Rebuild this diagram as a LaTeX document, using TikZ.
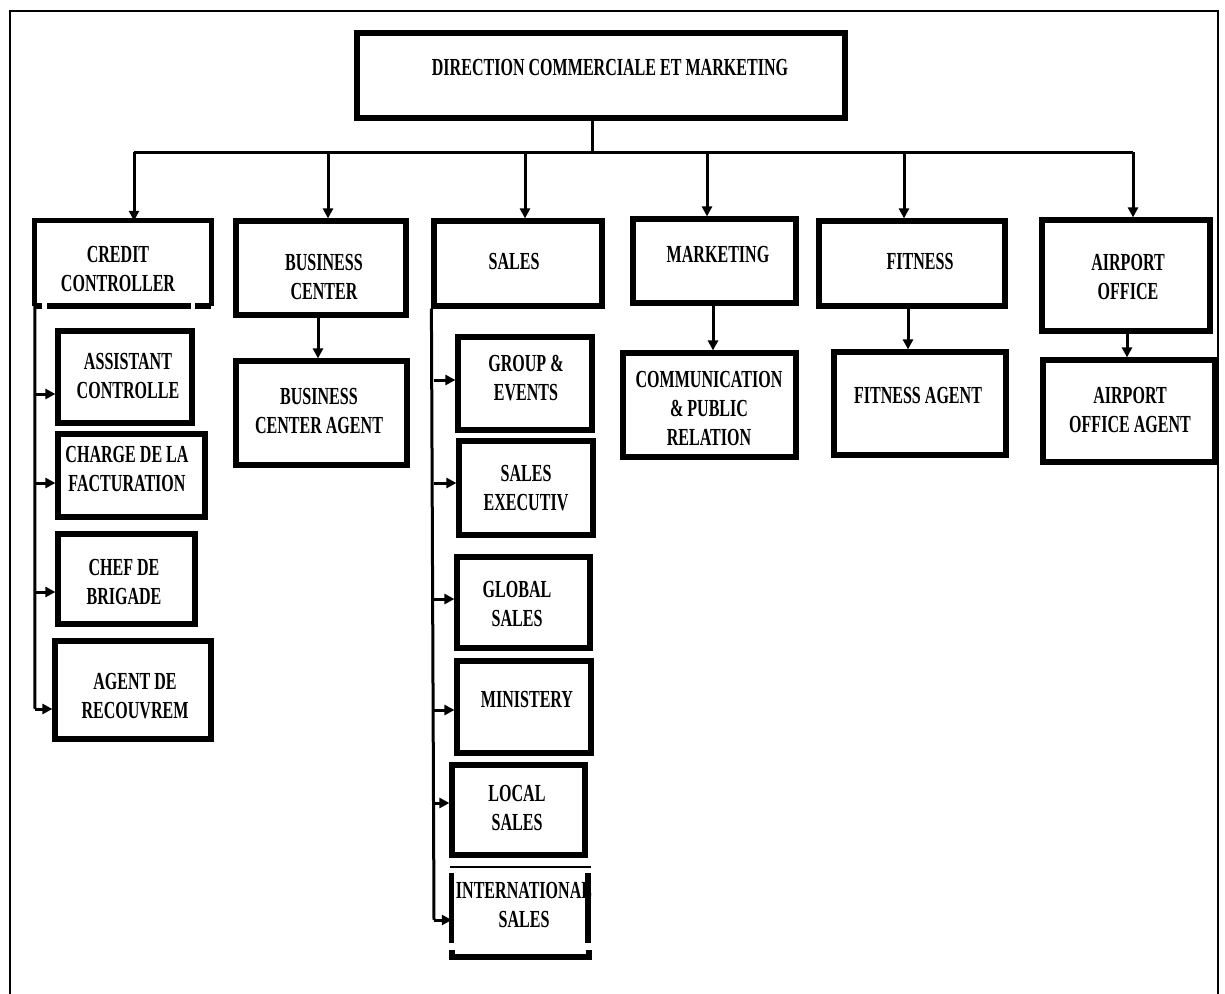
\documentclass[tikz,border=0pt]{standalone}
\usepackage{fontspec}
\usetikzlibrary{arrows.meta,fit}
\newfontfamily\orgfont[FakeStretch=0.655]{Liberation Serif}
\newcommand\orglabel{\orgfont\bfseries\fontsize{24.5}{29}\selectfont}

\begin{document}
\begin{tikzpicture}[x=1pt,y=-1pt,
  box/.style={draw, line width=5.2pt, inner sep=0pt},
  plain/.style={inner sep=0pt},
  lbl/.style={font=\orglabel, align=center, inner sep=0pt},
  conn/.style={line width=3pt},
  arr/.style={conn, -{Triangle[length=10pt,width=10pt]}},
  frame/.style={line width=2.6pt},
  edge/.style={line width=5.2pt}]

\useasboundingbox (0,0) rectangle (1225,993);

% page frame (open at the bottom)
\draw[frame] (10,1010) -- (10,11) -- (1218,11) -- (1218,1010);

% head of the department
\node[box, fit={(357,33) (845,118)}] (dcm) {};
\node[lbl] (dcm-t) at (610,68) {DIRECTION COMMERCIALE ET MARKETING};

% first level
\node[plain, fit={(35,221) (211,306)}] (cc) {};
\node[box, fit={(236,221) (406,315)}] (bc) {};
\node[box, fit={(434,221) (602,306)}] (sl) {};
\node[box, fit={(633,219) (796,303)}] (mk) {};
\node[box, fit={(819,221) (1005,306)}] (ft) {};
\node[box, fit={(1042,220) (1210,331)}] (ap) {};

% credit controller box, bottom edge broken
\draw[edge] (cc.south west) -- (cc.north west) -- (cc.north east) -- (cc.south east);
\draw[edge] (35,306) -- (42,306);
\draw[edge] (47,306) -- (191,306);
\draw[edge] (195,306) -- (211,306);

\node[lbl] (cc-t) at (118,269) {CREDIT\\CONTROLLER};
\node[lbl] (bc-t) at (324,277) {BUSINESS\\CENTER};
\node[lbl] (sl-t) at (514,262) {SALES};
\node[lbl] (mk-t) at (718,255) {MARKETING};
\node[lbl] (ft-t) at (920,262) {FITNESS};
\node[lbl] (ap-t) at (1128,277) {AIRPORT\\OFFICE};

% distribution bar
\coordinate (hub) at (592,152);
\coordinate (d1) at (134,152);
\coordinate (d2) at (328,152);
\coordinate (d3) at (525,152);
\coordinate (d4) at (707,152);
\coordinate (d5) at (904,152);
\coordinate (d6) at (1133,152);
\draw[conn] (dcm.south -| hub) -- (hub);
\draw[conn] (d1) -- (d6);
\draw[arr] (d1) -- (d1 |- cc.north);
\draw[arr] (d2) -- (d2 |- bc.north);
\draw[arr] (d3) -- (d3 |- sl.north);
\draw[arr] (d4) -- (d4 |- mk.north);
\draw[arr] (d5) -- (d5 |- ft.north);
\draw[arr] (d6) -- (d6 |- ap.north);

% second level, single children
\node[box, fit={(236,361) (407,465)}] (bca) {};
\node[box, fit={(623,353) (796,457)}] (cpr) {};
\node[box, fit={(834,352) (1006,455)}] (fta) {};
\node[box, fit={(1043,360) (1215,462)}] (apa) {};
\node[lbl] (bca-t) at (319,411) {BUSINESS\\CENTER AGENT};
\node[lbl] (cpr-t) at (709,409) {COMMUNICATION\\\& PUBLIC\\RELATION};
\node[lbl] (fta-t) at (918,396) {FITNESS AGENT};
\node[lbl] (apa-t) at (1130,410) {AIRPORT\\OFFICE AGENT};

\coordinate (xbc) at (318,0);
\coordinate (xmk) at (713,0);
\coordinate (xft) at (908,0);
\coordinate (xap) at (1127,0);
\draw[arr] (bc.south -| xbc) -- (bca.north -| xbc);
\draw[arr] (mk.south -| xmk) -- (cpr.north -| xmk);
\draw[arr] (ft.south -| xft) -- (fta.north -| xft);
\draw[arr] (ap.south -| xap) -- (apa.north -| xap);

% credit controller team
\node[box, fit={(58,331) (192,423)}] (ac) {};
\node[box, fit={(58,434) (205,517)}] (cf) {};
\node[box, fit={(58,534) (195,624)}] (cb) {};
\node[box, fit={(55,641) (211,739)}] (ar) {};
\node[lbl] (ac-t) at (128,376) {ASSISTANT\\CONTROLLE};
\node[lbl] (cf-t) at (127,469) {CHARGE DE LA\\FACTURATION};
\node[lbl] (cb-t) at (124,582) {CHEF DE\\BRIGADE};
\node[lbl] (ar-t) at (135,696) {AGENT DE\\RECOUVREM};

\coordinate (c1) at (35,394);
\coordinate (c2) at (35,483);
\coordinate (c3) at (35,592);
\coordinate (c4) at (35,709);
\draw[conn] (cc.south west) -- (c4);
\draw[arr] (c1) -- (c1 -| ac.west);
\draw[arr] (c2) -- (c2 -| cf.west);
\draw[arr] (c3) -- (c3 -| cb.west);
\draw[arr] (c4) -- (c4 -| ar.west);

% sales team
\node[box, fit={(458,337) (592,430)}] (ge) {};
\node[box, fit={(459,441) (593,535)}] (se) {};
\node[box, fit={(457,557) (590,648)}] (gs) {};
\node[box, fit={(457,661) (591,753)}] (mn) {};
\node[box, fit={(452,765) (585,855)}] (ls) {};
\node[plain, fit={(452,867) (590,958)}] (is) {};
\draw[line width=1.6pt] (450,867) -- (591,867);
\draw[edge] (is.west |- 0,873) -- (is.west |- 0,943);
\draw[edge] (588,873) -- (588,943);
\draw[edge] (452,950) -- (452,957) -- (589,957) -- (589,950);

\node[lbl] (ge-t) at (526,378) {GROUP \&\\EVENTS};
\node[lbl] (se-t) at (526,488) {SALES\\EXECUTIV};
\node[lbl] (gs-t) at (517,604) {GLOBAL\\SALES};
\node[lbl] (mn-t) at (527,699) {MINISTERY};
\node[lbl] (ls-t) at (517,808) {LOCAL\\SALES};
\node[lbl] (is-t) at (524,905) {INTERNATIONAL\\SALES};

\coordinate (s1) at (434,380);
\coordinate (s2) at (434,483);
\coordinate (s3) at (434,599);
\coordinate (s4) at (434,710);
\coordinate (s5) at (434,803);
\coordinate (s6) at (434,920);
\draw[conn] (sl.south west) -- (s6);
\draw[arr] (s1) -- (s1 -| ge.west);
\draw[arr] (s2) -- (s2 -| se.west);
\draw[arr] (s3) -- (s3 -| gs.west);
\draw[arr] (s4) -- (s4 -| mn.west);
\draw[arr] (s5) -- (s5 -| ls.west);
\draw[arr] (s6) -- (s6 -| is.west);
\end{tikzpicture}
\end{document}
